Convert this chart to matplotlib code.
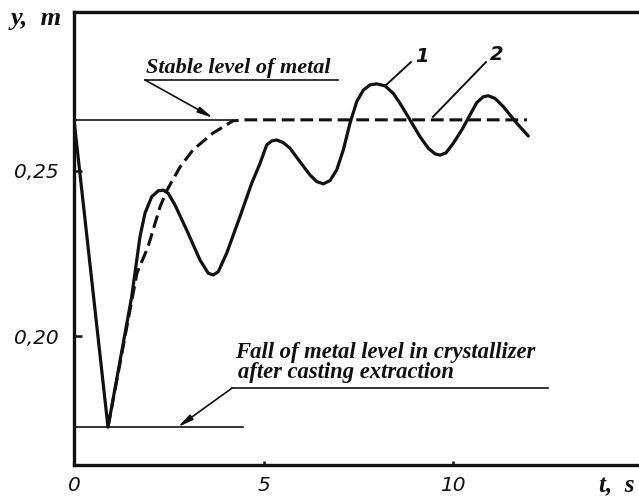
import matplotlib
matplotlib.use("Agg")
import matplotlib.pyplot as plt

# ---- data ----
t_curve1 = [0.000, 0.897, 1.522, 1.741, 1.873, 2.050, 2.224, 2.356, 2.488, 2.665,
            2.974, 3.325, 3.544, 3.675, 3.807, 4.029, 4.380, 4.689, 4.908, 5.085,
            5.216, 5.348, 5.522, 5.699, 5.963, 6.227, 6.404, 6.578, 6.755, 6.931,
            7.106, 7.282, 7.459, 7.633, 7.810, 7.987, 8.206, 8.425, 8.602, 8.865,
            9.129, 9.348, 9.525, 9.657, 9.815, 10.008, 10.230, 10.449, 10.625, 10.800,
            10.931, 11.108, 11.327, 11.681, 11.987]
y_curve1 = [0.2655, 0.1724, 0.2119, 0.2301, 0.2372, 0.2422, 0.2440, 0.2442, 0.2432, 0.2397,
            0.2321, 0.2230, 0.2190, 0.2185, 0.2195, 0.2251, 0.2362, 0.2463, 0.2523, 0.2579,
            0.2591, 0.2594, 0.2586, 0.2569, 0.2528, 0.2488, 0.2468, 0.2461, 0.2471, 0.2503,
            0.2564, 0.2645, 0.2710, 0.2745, 0.2761, 0.2764, 0.2758, 0.2735, 0.2705, 0.2655,
            0.2604, 0.2569, 0.2552, 0.2548, 0.2555, 0.2584, 0.2624, 0.2670, 0.2707, 0.2725,
            0.2728, 0.2720, 0.2695, 0.2645, 0.2606]

t_curve2 = [0.897, 1.662, 1.953, 2.269, 2.454, 2.797, 3.140, 3.668, 4.195, 4.512, 11.953]
y_curve2 = [0.1724, 0.2191, 0.2270, 0.2391, 0.2442, 0.2512, 0.2564, 0.2615, 0.2652, 0.2655, 0.2655]

stable_level = 0.2655
stable_t_end = 4.2
fall_level = 0.1724
fall_t_end = 4.46

x_ticks = [0, 5, 10]
x_tick_labels = ["0", "5", "10"]
y_ticks = [0.20, 0.25]
y_tick_labels = ["0,20", "0,25"]

# ---- figure ----
W, H = 639, 497
fig = plt.figure(figsize=(W / 100, H / 100), dpi=100)
fig.patch.set_facecolor("white")
ax = fig.add_axes([74 / W, 1 - 465 / H, (W - 74) / W, (465 - 12) / H])
ax.set_xlim(0, (W - 74) / 37.9)
ax.set_ylim(0.16091, 0.29818)

ink = "#111111"
serif_bi = dict(family="Liberation Serif", weight="bold", style="italic", color=ink)
sans_i = dict(family="DejaVu Sans", style="italic", color=ink)

# curves
ax.plot(t_curve1, y_curve1, color=ink, lw=2.3, solid_joinstyle="round",
        solid_capstyle="round", zorder=3)
ax.plot(t_curve2, y_curve2, color=ink, lw=2.2, linestyle=(0, (4.2, 1.9)), zorder=3)

# reference levels (thin lines)
ax.plot([0, stable_t_end], [stable_level, stable_level], color=ink, lw=1.2, zorder=2)
ax.plot([0, fall_t_end], [fall_level, fall_level], color=ink, lw=1.2, zorder=2)

arrow = dict(arrowstyle="-|>,head_length=0.9,head_width=0.18",
             color=ink, lw=1.2, shrinkA=0, shrinkB=0)

# "Stable level of metal" annotation
ax.plot([1.87, 6.97], [0.2776, 0.2776], color=ink, lw=1.2)
ax.annotate("", xy=(3.67, 0.2661), xytext=(1.87, 0.2776), arrowprops=arrow)
ax.text(1.90, 0.2797, "Stable level of metal", fontsize=16, ha="left", va="baseline",
        **serif_bi)

# "Fall ..." annotation
ax.plot([4.17, 12.51], [0.1842, 0.1842], color=ink, lw=1.2)
ax.annotate("", xy=(2.74, fall_level), xytext=(4.17, 0.1842), arrowprops=arrow)
ax.text(4.25, 0.1933, "Fall of metal level in crystallizer", fontsize=16.3,
        ha="left", va="baseline", **serif_bi)
ax.text(4.33, 0.1872, "after casting extraction", fontsize=16.3,
        ha="left", va="baseline", **serif_bi)

# curve labels 1 and 2
ax.plot([8.21, 8.89], [0.2758, 0.2830], color=ink, lw=1.4)
ax.text(9.18, 0.2848, "1", fontsize=14, ha="center", va="center", weight="bold", **sans_i)
ax.plot([9.47, 10.87], [0.2664, 0.2830], color=ink, lw=1.4)
ax.text(11.16, 0.2852, "2", fontsize=14, ha="center", va="center", weight="bold", **sans_i)

# spines and ticks
for s in ["left", "top", "bottom"]:
    ax.spines[s].set_linewidth(2.4)
    ax.spines[s].set_color(ink)
ax.spines["right"].set_visible(False)

ax.set_xticks(x_ticks)
ax.set_xticklabels(x_tick_labels, fontsize=14.5, **sans_i)
ax.set_yticks(y_ticks)
ax.set_yticklabels(y_tick_labels, fontsize=14.5, **sans_i)
ax.tick_params(axis="y", direction="in", length=6, width=1.8, pad=11, colors=ink)
ax.tick_params(axis="x", direction="in", length=3, width=1.8, pad=8, colors=ink)

# axis names
fig.text(36 / W, 1 - 19 / H, "y,  m", fontsize=19, ha="center", va="center", **serif_bi)
fig.text(617 / W, 1 - 486 / H, "t,  s", fontsize=18, ha="center", va="center", **serif_bi)

fig.savefig("out.png", dpi=100, facecolor="white")
